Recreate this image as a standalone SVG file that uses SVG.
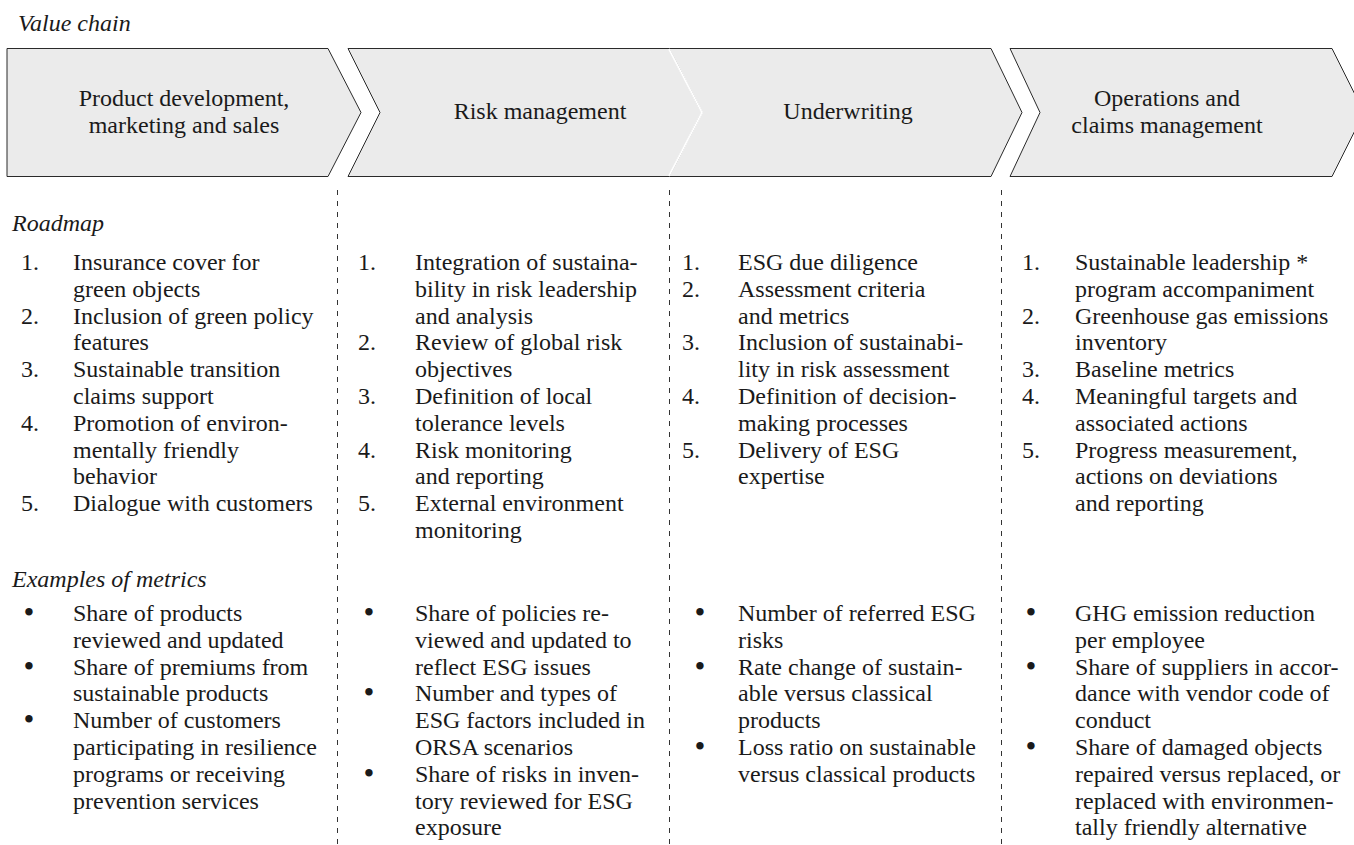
<svg xmlns="http://www.w3.org/2000/svg" width="1354" height="845" viewBox="0 0 1354 845">
<style>
.t{font-family:"Liberation Serif","DejaVu Serif",serif;font-size:24px;fill:#1a1a1a}
.h{font-style:italic}
.c{text-anchor:middle}
.b{text-anchor:middle;font-size:31px}
.chev{fill:#ebebeb;stroke:#2a2a2a;stroke-width:1}
.sep{stroke:#333;stroke-width:1;stroke-dasharray:5 6;fill:none}
</style>
<rect width="1354" height="845" fill="#fff"/>
<text class="t h" x="18" y="31">Value chain</text>

<g id="chevron-product">
<polygon class="chev" points="7,48.5 328,48.5 361,112.5 328,176.5 7,176.5"/>
<text class="t c" x="184" y="106">Product development,</text>
<text class="t c" x="184" y="132.5">marketing and sales</text>
</g>
<g id="chevron-risk">
<polygon class="chev" points="348,48.5 669,48.5 702,112.5 669,176.5 348,176.5 380,112.5"/>
<text class="t c" x="540" y="119">Risk management</text>
</g>
<g id="chevron-underwriting">
<polygon class="chev" points="669,48.5 991,48.5 1022,112.5 991,176.5 669,176.5 702,112.5"/>
<polyline points="669,49 702,112.5 669,176" fill="none" stroke="#fff" stroke-width="1.8"/>
<text class="t c" x="848" y="119">Underwriting</text>
</g>
<g id="chevron-operations">
<polygon class="chev" points="1010,48.5 1332,48.5 1364,112.5 1332,176.5 1010,176.5 1040,112.5"/>
<text class="t c" x="1167" y="106">Operations and</text>
<text class="t c" x="1167" y="132.5">claims management</text>
</g>

<g id="separators">
<line class="sep" x1="337.5" y1="190" x2="337.5" y2="845"/>
<line class="sep" x1="669.5" y1="190" x2="669.5" y2="845"/>
<line class="sep" x1="1001.5" y1="190" x2="1001.5" y2="845"/>
</g>

<text class="t h" x="12" y="231">Roadmap</text>
<text class="t h" x="12" y="587">Examples of metrics</text>

<g id="roadmap-product">
<text class="t" x="21" y="270">1.</text>
<text class="t" x="73" y="270">Insurance cover for</text>
<text class="t" x="73" y="296.8">green objects</text>
<text class="t" x="21" y="323.6">2.</text>
<text class="t" x="73" y="323.6">Inclusion of green policy</text>
<text class="t" x="73" y="350.4">features</text>
<text class="t" x="21" y="377.2">3.</text>
<text class="t" x="73" y="377.2">Sustainable transition</text>
<text class="t" x="73" y="404">claims support</text>
<text class="t" x="21" y="430.8">4.</text>
<text class="t" x="73" y="430.8">Promotion of environ-</text>
<text class="t" x="73" y="457.6">mentally friendly</text>
<text class="t" x="73" y="484.4">behavior</text>
<text class="t" x="21" y="511.2">5.</text>
<text class="t" x="73" y="511.2">Dialogue with customers</text>
</g>

<g id="roadmap-risk">
<text class="t" x="358" y="270">1.</text>
<text class="t" x="415" y="270">Integration of sustaina-</text>
<text class="t" x="415" y="296.8">bility in risk leadership</text>
<text class="t" x="415" y="323.6">and analysis</text>
<text class="t" x="358" y="350.4">2.</text>
<text class="t" x="415" y="350.4">Review of global risk</text>
<text class="t" x="415" y="377.2">objectives</text>
<text class="t" x="358" y="404">3.</text>
<text class="t" x="415" y="404">Definition of local</text>
<text class="t" x="415" y="430.8">tolerance levels</text>
<text class="t" x="358" y="457.6">4.</text>
<text class="t" x="415" y="457.6">Risk monitoring</text>
<text class="t" x="415" y="484.4">and reporting</text>
<text class="t" x="358" y="511.2">5.</text>
<text class="t" x="415" y="511.2">External environment</text>
<text class="t" x="415" y="538">monitoring</text>
</g>

<g id="roadmap-underwriting">
<text class="t" x="682" y="270">1.</text>
<text class="t" x="738" y="270">ESG due diligence</text>
<text class="t" x="682" y="296.8">2.</text>
<text class="t" x="738" y="296.8">Assessment criteria</text>
<text class="t" x="738" y="323.6">and metrics</text>
<text class="t" x="682" y="350.4">3.</text>
<text class="t" x="738" y="350.4">Inclusion of sustainabi-</text>
<text class="t" x="738" y="377.2">lity in risk assessment</text>
<text class="t" x="682" y="404">4.</text>
<text class="t" x="738" y="404">Definition of decision-</text>
<text class="t" x="738" y="430.8">making processes</text>
<text class="t" x="682" y="457.6">5.</text>
<text class="t" x="738" y="457.6">Delivery of ESG</text>
<text class="t" x="738" y="484.4">expertise</text>
</g>

<g id="roadmap-operations">
<text class="t" x="1022" y="270">1.</text>
<text class="t" x="1075" y="270">Sustainable leadership *</text>
<text class="t" x="1075" y="296.8">program accompaniment</text>
<text class="t" x="1022" y="323.6">2.</text>
<text class="t" x="1075" y="323.6">Greenhouse gas emissions</text>
<text class="t" x="1075" y="350.4">inventory</text>
<text class="t" x="1022" y="377.2">3.</text>
<text class="t" x="1075" y="377.2">Baseline metrics</text>
<text class="t" x="1022" y="404">4.</text>
<text class="t" x="1075" y="404">Meaningful targets and</text>
<text class="t" x="1075" y="430.8">associated actions</text>
<text class="t" x="1022" y="457.6">5.</text>
<text class="t" x="1075" y="457.6">Progress measurement,</text>
<text class="t" x="1075" y="484.4">actions on deviations</text>
<text class="t" x="1075" y="511.2">and reporting</text>
</g>

<g id="metrics-product">
<text class="t b" x="29" y="623">•</text>
<text class="t" x="73" y="621">Share of products</text>
<text class="t" x="73" y="647.8">reviewed and updated</text>
<text class="t b" x="29" y="676.6">•</text>
<text class="t" x="73" y="674.6">Share of premiums from</text>
<text class="t" x="73" y="701.4">sustainable products</text>
<text class="t b" x="29" y="730.2">•</text>
<text class="t" x="73" y="728.2">Number of customers</text>
<text class="t" x="73" y="755">participating in resilience</text>
<text class="t" x="73" y="781.8">programs or receiving</text>
<text class="t" x="73" y="808.6">prevention services</text>
</g>

<g id="metrics-risk">
<text class="t b" x="369" y="623">•</text>
<text class="t" x="415" y="621">Share of policies re-</text>
<text class="t" x="415" y="647.8">viewed and updated to</text>
<text class="t" x="415" y="674.6">reflect ESG issues</text>
<text class="t b" x="369" y="703.4">•</text>
<text class="t" x="415" y="701.4">Number and types of</text>
<text class="t" x="415" y="728.2">ESG factors included in</text>
<text class="t" x="415" y="755">ORSA scenarios</text>
<text class="t b" x="369" y="783.8">•</text>
<text class="t" x="415" y="781.8">Share of risks in inven-</text>
<text class="t" x="415" y="808.6">tory reviewed for ESG</text>
<text class="t" x="415" y="835.4">exposure</text>
</g>

<g id="metrics-underwriting">
<text class="t b" x="700" y="623">•</text>
<text class="t" x="738" y="621">Number of referred ESG</text>
<text class="t" x="738" y="647.8">risks</text>
<text class="t b" x="700" y="676.6">•</text>
<text class="t" x="738" y="674.6">Rate change of sustain-</text>
<text class="t" x="738" y="701.4">able versus classical</text>
<text class="t" x="738" y="728.2">products</text>
<text class="t b" x="700" y="757">•</text>
<text class="t" x="738" y="755">Loss ratio on sustainable</text>
<text class="t" x="738" y="781.8">versus classical products</text>
</g>

<g id="metrics-operations">
<text class="t b" x="1031" y="623">•</text>
<text class="t" x="1075" y="621">GHG emission reduction</text>
<text class="t" x="1075" y="647.8">per employee</text>
<text class="t b" x="1031" y="676.6">•</text>
<text class="t" x="1075" y="674.6">Share of suppliers in accor-</text>
<text class="t" x="1075" y="701.4">dance with vendor code of</text>
<text class="t" x="1075" y="728.2">conduct</text>
<text class="t b" x="1031" y="757">•</text>
<text class="t" x="1075" y="755">Share of damaged objects</text>
<text class="t" x="1075" y="781.8">repaired versus replaced, or</text>
<text class="t" x="1075" y="808.6">replaced with environmen-</text>
<text class="t" x="1075" y="835.4">tally friendly alternative</text>
</g>
</svg>
